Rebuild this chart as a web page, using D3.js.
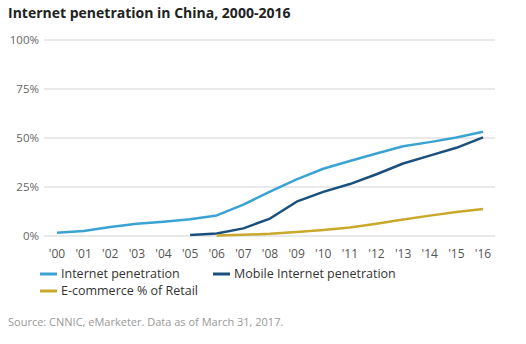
<!DOCTYPE html>
<html>
<head>
<meta charset="utf-8">
<style>
body { margin: 0; background: #fff; }
svg { font-family: "Open Sans", sans-serif; }
.grid line { stroke: #d3d3d3; stroke-width: 1; }
</style>
</head>
<body>
<svg id="chart" width="526" height="344"></svg>
<script src="https://d3js.org/d3.v7.min.js"></script>
<script>
let years = ["'00","'01","'02","'03","'04","'05","'06","'07","'08","'09","'10","'11","'12","'13","'14","'15","'16"];
let yTicks = [0, 25, 50, 75, 100];
let internet = [1.7, 2.6, 4.6, 6.2, 7.3, 8.5, 10.5, 16.0, 22.6, 28.9, 34.3, 38.3, 42.1, 45.8, 47.9, 50.3, 53.2];
let mobile = [null, null, null, null, null, 0.5, 1.3, 3.9, 8.9, 17.5, 22.5, 26.5, 31.5, 37.0, 41.0, 45.0, 50.3];
let ecommerce = [null, null, null, null, null, null, 0.3, 0.6, 1.1, 2.0, 3.0, 4.3, 6.3, 8.4, 10.4, 12.3, 13.8];
let seriesNames = ["Internet penetration", "Mobile Internet penetration", "E-commerce % of Retail"];
let colors = ["#3ba3d2", "#1b4f7c", "#c8a92c"];

let svg = d3.select("#chart");

svg.append("text")
    .attr("x", 8).attr("y", 18)
    .attr("font-size", 14).attr("font-weight", "bold")
    .attr("fill", "#222")
    .text("Internet penetration in China, 2000-2016");

let x = d3.scalePoint().domain(years).range([57, 483]);
let y = d3.scaleLinear().domain([0, 100]).range([236, 40]);

// gridlines
let grid = svg.append("g").attr("class", "grid");
grid.selectAll("line").data(yTicks).join("line")
    .attr("x1", 44).attr("x2", 495)
    .attr("y1", d => y(d)).attr("y2", d => y(d));

grid.selectAll("text").data(yTicks).join("text")
    .attr("x", 39).attr("y", d => y(d) + 4)
    .attr("text-anchor", "end")
    .attr("font-size", 11.5).attr("fill", "#666")
    .text(d => d + "%");

// x labels
svg.append("g").selectAll("text").data(years).join("text")
    .attr("x", d => x(d)).attr("y", 258)
    .attr("text-anchor", "middle")
    .attr("font-size", 12).attr("fill", "#555")
    .text(d => d);

let line = d3.line()
    .defined(d => d.v != null)
    .x(d => x(d.year))
    .y(d => y(d.v));

let allSeries = [internet, mobile, ecommerce];
allSeries.forEach(function(vals, i) {
    let pts = vals.map((v, j) => ({year: years[j], v: v}));
    svg.append("path")
        .datum(pts)
        .attr("fill", "none")
        .attr("stroke", colors[i])
        .attr("stroke-width", 2.5)
        .attr("stroke-linejoin", "round")
        .attr("d", line);
});

// legend
let legendPos = [[40, 278], [213, 278], [40, 295]];
let legend = svg.append("g").selectAll("g").data(seriesNames).join("g")
    .attr("transform", (d, i) => "translate(" + legendPos[i][0] + "," + legendPos[i][1] + ")");
legend.append("line")
    .attr("x1", 0).attr("x2", 17).attr("y1", -4).attr("y2", -4)
    .attr("stroke", (d, i) => colors[i]).attr("stroke-width", 3);
legend.append("text")
    .attr("x", 21).attr("y", 0)
    .attr("font-size", 12.5).attr("fill", "#333")
    .text(d => d);

svg.append("text")
    .attr("x", 8).attr("y", 326)
    .attr("font-size", 11).attr("fill", "#999")
    .text("Source: CNNIC, eMarketer. Data as of March 31, 2017.");
</script>
</body>
</html>
